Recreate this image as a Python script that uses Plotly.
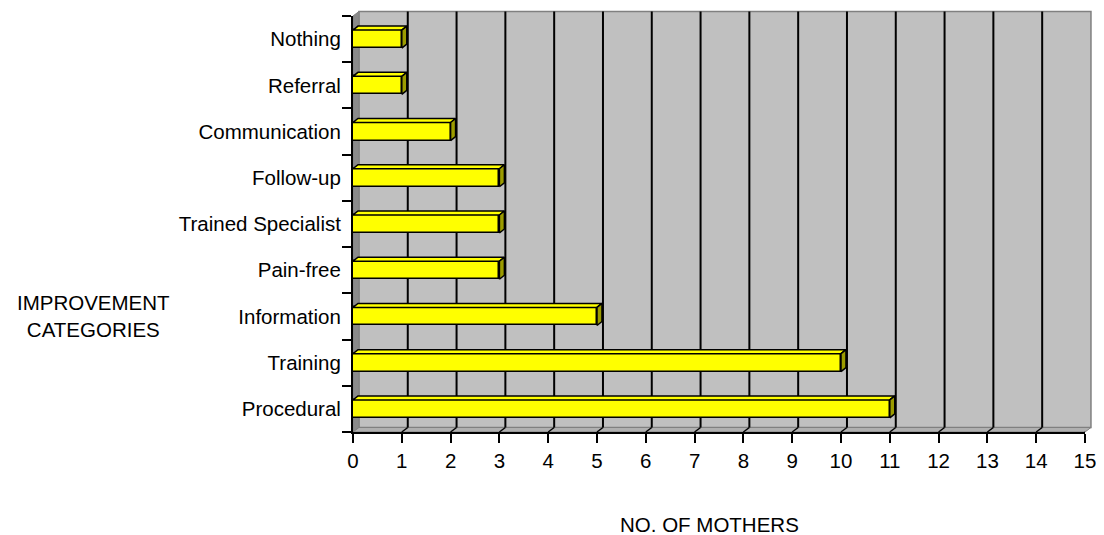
import plotly.graph_objects as go

# ---- data (bottom to top) ----
categories = ["Procedural", "Training", "Information", "Pain-free",
              "Trained Specialist", "Follow-up", "Communication", "Referral", "Nothing"]
mothers = [11, 10, 5, 3, 3, 3, 2, 1, 1]
x_ticks = list(range(0, 16))

# ---- geometry / style (page pixels; page body has an 8px margin) ----
BODY = 8
PAGE_W, PAGE_H = 1104, 535
W_PX, H_PX = 735.5, 416.0
L_PX, T_PX = 352.5, 16.0
X_MAX = 15
N = len(categories)
px_per_x = W_PX / X_MAX
px_per_cat = H_PX / N

wall_dx, wall_dy = 6.0, 4.5      # depth of the chart box, px
bar_dx, bar_dy = 5.0, 4.0        # depth of each bar, px
bar_w = 0.39

dxp, dyp = wall_dx / W_PX, wall_dy / H_PX
wdx = wall_dx / px_per_x
bdx, bdy = bar_dx / px_per_x, bar_dy / px_per_cat

FONT = "Liberation Sans, Arial, sans-serif"
FS = 20.5
YELLOW = "#FFFF00"
OLIVE = "#9C9C00"

ypos = list(range(N))

fig = go.Figure()
fig.add_trace(go.Bar(
    x=mothers, y=ypos, orientation="h", width=bar_w,
    marker=dict(color=YELLOW, line=dict(color="black", width=1.5)),
    hoverinfo="x+y", showlegend=False,
))

# 3D faces of each bar, computed from the data
for c, v in zip(ypos, mothers):
    h = bar_w / 2
    fig.add_trace(go.Scatter(
        x=[0, v, v + bdx, bdx, 0], y=[c + h, c + h, c + h + bdy, c + h + bdy, c + h],
        mode="lines", fill="toself", fillcolor=YELLOW,
        line=dict(color="black", width=1.5), hoverinfo="skip", showlegend=False))
    fig.add_trace(go.Scatter(
        x=[v, v + bdx, v + bdx, v, v], y=[c - h, c - h + bdy, c + h + bdy, c + h, c - h],
        mode="lines", fill="toself", fillcolor=OLIVE,
        line=dict(color="black", width=1.5), hoverinfo="skip", showlegend=False))

shapes = []
# back wall
shapes.append(dict(type="rect", xref="paper", yref="paper", x0=dxp, x1=1 + dxp, y0=dyp, y1=1 + dyp,
                   fillcolor="#C0C0C0", line=dict(color="#808080", width=1.5), layer="below"))
# left side wall
shapes.append(dict(type="path", xref="paper", yref="paper",
                   path=f"M 0,0 L {dxp},{dyp} L {dxp},{1 + dyp} L 0,1 Z",
                   fillcolor="#8A8A8A", line=dict(color="#808080", width=1), layer="below"))
# floor
shapes.append(dict(type="path", xref="paper", yref="paper",
                   path=f"M 0,0 L 1,0 L {1 + dxp},{dyp} L {dxp},{dyp} Z",
                   fillcolor="#B0B0B0", line=dict(color="#808080", width=1), layer="below"))
# gridlines on back wall and floor
for t in x_ticks[1:-1]:
    shapes.append(dict(type="line", xref="x", yref="paper", x0=t + wdx, x1=t + wdx, y0=dyp, y1=1 + dyp,
                       line=dict(color="black", width=2), layer="below"))
for t in x_ticks[1:]:
    shapes.append(dict(type="line", xref="x", yref="paper", x0=t, x1=t + wdx, y0=0, y1=dyp,
                       line=dict(color="black", width=1.5), layer="below"))

fig.update_layout(
    width=PAGE_W - BODY, height=PAGE_H - BODY,
    margin=dict(l=L_PX - BODY, r=PAGE_W - L_PX - W_PX, t=T_PX - BODY, b=PAGE_H - T_PX - H_PX, pad=0),
    paper_bgcolor="white", plot_bgcolor="rgba(0,0,0,0)",
    font=dict(family=FONT, size=FS, color="black"),
    shapes=shapes,
    bargap=0,
    xaxis=dict(range=[0, X_MAX], tickvals=x_ticks, ticktext=[str(t) for t in x_ticks],
               ticks="outside", ticklen=9, tickwidth=2, tickcolor="black",
               showline=True, linecolor="black", linewidth=2, showgrid=False, zeroline=False,
               tickfont=dict(size=FS), fixedrange=True),
    yaxis=dict(range=[-0.5, N - 0.5], tickvals=ypos, ticktext=categories,
               ticks="outside", ticklen=6, tickcolor="rgba(0,0,0,0)",
               minor=dict(tickvals=[i - 0.5 for i in range(N + 1)], ticks="outside",
                          ticklen=9, tickwidth=2, tickcolor="black"),
               showline=True, linecolor="black", linewidth=2, showgrid=False, zeroline=False,
               tickfont=dict(size=FS), fixedrange=True),
    annotations=[
        dict(text="IMPROVEMENT<br>CATEGORIES", xref="paper", yref="paper",
             x=(91.5 - L_PX) / W_PX, y=(T_PX + H_PX - 315.5) / H_PX,
             xanchor="center", yanchor="middle", align="center", showarrow=False,
             font=dict(size=FS)),
        dict(text="NO. OF MOTHERS", xref="paper", yref="paper",
             x=(711 - L_PX) / W_PX, y=(T_PX + H_PX - 524) / H_PX,
             xanchor="center", yanchor="middle", showarrow=False, font=dict(size=FS)),
    ],
)

fig.write_html("out.html")
